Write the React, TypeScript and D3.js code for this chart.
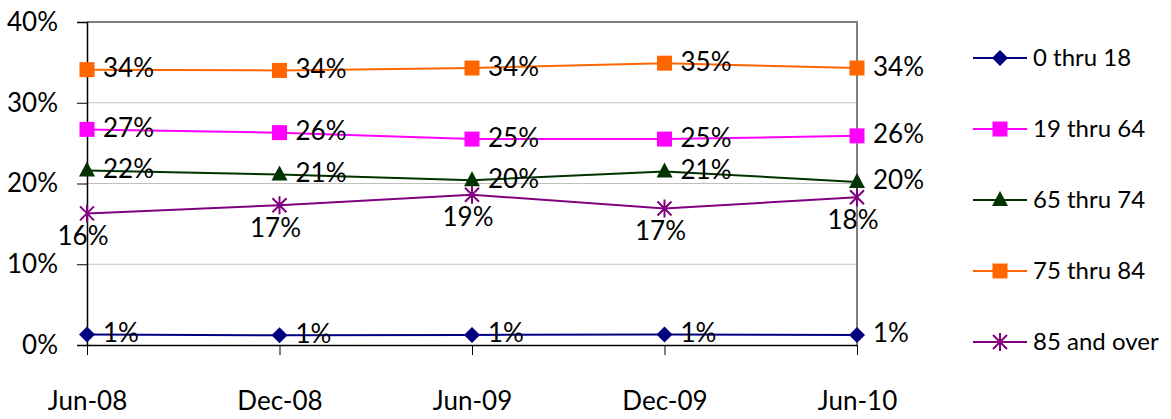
import React, { useEffect, useRef } from 'react';
import * as d3 from 'd3';

const periods = ['Jun-08', 'Dec-08', 'Jun-09', 'Dec-09', 'Jun-10'];
const yTicks = [0, 10, 20, 30, 40];

const age0to18 = [1.3, 1.2, 1.25, 1.3, 1.25];
const age19to64 = [26.7, 26.3, 25.5, 25.5, 25.9];
const age65to74 = [21.6, 21.1, 20.4, 21.5, 20.2];
const age75to84 = [34.1, 34.0, 34.3, 34.9, 34.3];
const age85over = [16.3, 17.3, 18.6, 16.9, 18.3];

const labels0to18 = ['1%', '1%', '1%', '1%', '1%'];
const labels19to64 = ['27%', '26%', '25%', '25%', '26%'];
const labels65to74 = ['22%', '21%', '20%', '21%', '20%'];
const labels75to84 = ['34%', '34%', '34%', '35%', '34%'];
const labels85over = ['16%', '17%', '19%', '17%', '18%'];

type Series = { name: string; values: number[]; labels: string[]; color: string; marker: string; below?: boolean };

const series: Series[] = [
  { name: '0 thru 18', values: age0to18, labels: labels0to18, color: '#000080', marker: 'diamond' },
  { name: '19 thru 64', values: age19to64, labels: labels19to64, color: '#FF00FF', marker: 'square' },
  { name: '65 thru 74', values: age65to74, labels: labels65to74, color: '#003300', marker: 'triangle' },
  { name: '75 thru 84', values: age75to84, labels: labels75to84, color: '#FF6600', marker: 'square' },
  { name: '85 and over', values: age85over, labels: labels85over, color: '#800080', marker: 'star', below: true },
];

const FONT = 'Lato, "Open Sans", sans-serif';

function drawMarker(g: d3.Selection<SVGGElement, unknown, null, undefined>, kind: string, x: number, y: number, color: string) {
  if (kind === 'diamond') {
    g.append('path')
      .attr('d', `M${x},${y - 8}L${x + 8},${y}L${x},${y + 8}L${x - 8},${y}Z`)
      .attr('fill', color);
  } else if (kind === 'square') {
    g.append('rect')
      .attr('x', x - 7.5)
      .attr('y', y - 7.5)
      .attr('width', 15)
      .attr('height', 15)
      .attr('fill', color);
  } else if (kind === 'triangle') {
    g.append('path')
      .attr('d', `M${x},${y - 9}L${x + 8},${y + 6}L${x - 8},${y + 6}Z`)
      .attr('fill', color);
  } else {
    g.append('path')
      .attr('d', `M${x - 7},${y - 7}L${x + 7},${y + 7}M${x + 7},${y - 7}L${x - 7},${y + 7}M${x},${y - 9}L${x},${y + 9}`)
      .attr('stroke', color)
      .attr('stroke-width', 2)
      .attr('fill', 'none');
  }
}

export default function App() {
  const ref = useRef<SVGSVGElement>(null);

  useEffect(() => {
    const width = 1171;
    const height = 419;
    const margin = { top: 22, right: 314, bottom: 74, left: 87 };

    const svg = d3.select(ref.current);
    svg.selectAll('*').remove();

    const x = d3
      .scalePoint<string>()
      .domain(periods)
      .range([margin.left, width - margin.right]);

    const y = d3
      .scaleLinear()
      .domain([0, 40])
      .range([height - margin.bottom, margin.top]);

    // gridlines
    svg
      .append('g')
      .selectAll('line')
      .data(yTicks.slice(1))
      .join('line')
      .attr('x1', margin.left)
      .attr('x2', width - margin.right)
      .attr('y1', (d) => y(d))
      .attr('y2', (d) => y(d))
      .attr('stroke', '#C0C0C0')
      .attr('stroke-width', 1);

    // top / right frame
    svg
      .append('path')
      .attr('d', `M${margin.left},${y(40)}H${width - margin.right}V${y(0)}`)
      .attr('fill', 'none')
      .attr('stroke', '#808080')
      .attr('stroke-width', 2);

    // y axis
    const yAxis = svg
      .append('g')
      .attr('transform', `translate(${margin.left},0)`)
      .call(d3.axisLeft(y).tickValues(yTicks).tickSize(10).tickFormat((d) => `${d}%`));
    yAxis.select('.domain').attr('stroke', '#000').attr('stroke-width', 1.5);
    yAxis.selectAll('.tick line').attr('stroke', '#000');
    yAxis
      .selectAll('.tick text')
      .attr('x', -29)
      .attr('font-family', FONT)
      .attr('font-size', 26)
      .attr('fill', '#000');

    // x axis
    const xAxis = svg
      .append('g')
      .attr('transform', `translate(0,${y(0)})`)
      .call(d3.axisBottom(x).tickSize(10).tickSizeOuter(0));
    xAxis.select('.domain').attr('stroke', '#000').attr('stroke-width', 1.5);
    xAxis.selectAll('.tick line').attr('stroke', '#000');
    xAxis
      .selectAll('.tick text')
      .attr('y', 65)
      .attr('dy', 0)
      .attr('font-family', FONT)
      .attr('font-size', 26)
      .attr('fill', '#000');

    const line = d3
      .line<number>()
      .x((_, i) => x(periods[i]) as number)
      .y((d) => y(d));

    series.forEach((s) => {
      const g = svg.append('g');
      g.append('path')
        .datum(s.values)
        .attr('fill', 'none')
        .attr('stroke', s.color)
        .attr('stroke-width', 2)
        .attr('d', line);

      s.values.forEach((v, i) => {
        drawMarker(g, s.marker, x(periods[i]) as number, y(v), s.color);
      });

      g.selectAll('text')
        .data(s.values)
        .join('text')
        .attr('x', (_, i) => (x(periods[i]) as number) + (s.below ? -4 : 16))
        .attr('y', (d) => y(d) + (s.below ? 25 : 1))
        .attr('text-anchor', s.below ? 'middle' : 'start')
        .attr('dominant-baseline', 'middle')
        .attr('font-family', FONT)
        .attr('font-size', 26)
        .attr('fill', '#000')
        .text((_, i) => s.labels[i]);
    });

    // legend
    const legend = svg.append('g').attr('transform', `translate(973, 58)`);
    series.forEach((s, i) => {
      const row = legend.append('g').attr('transform', `translate(0, ${i * 71})`);
      row.append('line')
        .attr('x1', 0)
        .attr('x2', 54)
        .attr('y1', 0)
        .attr('y2', 0)
        .attr('stroke', s.color)
        .attr('stroke-width', 2);
      drawMarker(row, s.marker, 27, 0, s.color);
      row.append('text')
        .attr('x', 60)
        .attr('y', 2)
        .attr('dominant-baseline', 'middle')
        .attr('font-family', FONT)
        .attr('font-size', 24)
        .attr('fill', '#000')
        .text(s.name);
    });
  }, []);

  return (
    <svg
      ref={ref}
      width={1171}
      height={419}
      style={{ position: 'absolute', left: 0, top: 0, background: '#fff' }}
    />
  );
}
